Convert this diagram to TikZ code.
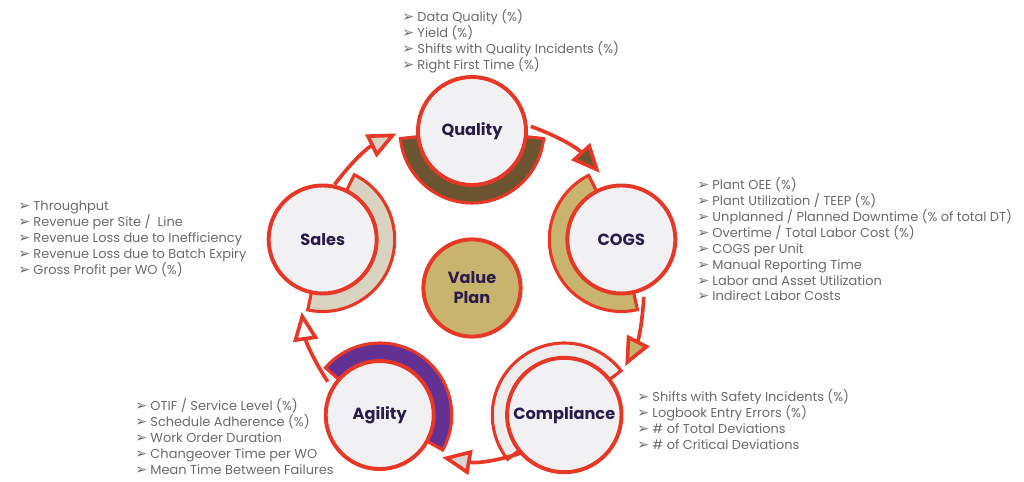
\documentclass[tikz,border=0pt]{standalone}
\usepackage{fontspec}
\setmainfont{Poppins}
\newfontfamily\bulfont{DejaVu Sans}
\usetikzlibrary{calc,arrows.meta}
\definecolor{ringred}{HTML}{E73827}
\definecolor{disc}{HTML}{F1F1F3}
\definecolor{ink}{HTML}{2A1B4A}
\definecolor{txtgray}{HTML}{6A6A6A}
\definecolor{gold}{HTML}{C9B46E}
\definecolor{qbrown}{HTML}{6B5430}
\definecolor{greige}{HTML}{D9D4C2}
\definecolor{agpurple}{HTML}{633094}
\definecolor{pale}{HTML}{EDEDED}
\newcommand{\itm}{\makebox[0.38cm][l]{\bulfont\fontsize{10}{11}\selectfont ➢}}
\tikzset{
  kpi/.style={circle, draw=ringred, line width=2.8pt, fill=disc, minimum size=2.7cm,
    font=\fontsize{11.5}{14}\selectfont\bfseries, text=ink},
  band/.style={draw=ringred, line width=2.2pt},
  flow/.style={draw=ringred, line width=2.6pt},
  metrics/.style={align=left, inner sep=0pt, anchor=north west, text=txtgray,
    font=\fontsize{9.2}{11.34}\selectfont},
}

\begin{document}
\begin{tikzpicture}[x=0.025cm,y=0.025cm]
  \useasboundingbox (0,0) rectangle (1024,481);
  \coordinate (hub) at (472,193);
  \coordinate (qc) at ($(hub)+(90:157)$);
  \coordinate (cc) at ($(hub)+(18:157)$);
  \coordinate (mc) at ($(hub)+(-54:157)$);
  \coordinate (ac) at ($(hub)+(-126:157)$);
  \coordinate (sc) at ($(hub)+(162:157)$);

  \draw[band, fill=qbrown] (qc) -- ++(186:72) arc[start angle=186, end angle=354, radius=72] -- cycle;
  \draw[band, fill=gold] (cc) -- ++(117:72) arc[start angle=117, end angle=283, radius=72] -- cycle;
  \draw[band, fill=pale] (mc) -- ++(38:72) arc[start angle=38, end angle=218, radius=72] -- cycle;
  \draw[band, fill=agpurple] (ac) -- ++(-29:72) arc[start angle=-29, end angle=139, radius=72] -- cycle;
  \draw[band, fill=greige] (sc) -- ++(-102:72) arc[start angle=-102, end angle=64, radius=72] -- cycle;

  \coordinate (q-out) at ($(hub)+(70:172)$);
  \coordinate (c-in) at ($(hub)+(42:172)$);
  \coordinate (c-out) at ($(hub)+(-3:172)$);
  \coordinate (m-in) at ($(hub)+(-27:172)$);
  \coordinate (m-out) at ($(hub)+(-70:172)$);
  \coordinate (a-in) at ($(hub)+(-100:172)$);
  \coordinate (a-out) at ($(hub)+(213:172)$);
  \coordinate (s-in) at ($(hub)+(188:172)$);
  \coordinate (s-out) at ($(hub)+(143:172)$);
  \coordinate (q-in) at ($(hub)+(116:172)$);

  \draw[flow, -{Triangle[length=0.72cm, width=0.62cm, fill=qbrown]}] (q-out) to[bend left=14] (c-in);
  \draw[flow, -{Triangle[length=0.72cm, width=0.62cm, fill=gold]}] (c-out) to[bend left=12] (m-in);
  \draw[flow, -{Triangle[length=0.72cm, width=0.62cm, fill=pale!80!gray]}] (m-out) to[bend left=15] (a-in);
  \draw[flow, -{Triangle[length=0.72cm, width=0.62cm, fill=white]}] (a-out) to[bend left=12.5] (s-in);
  \draw[flow, -{Triangle[length=0.72cm, width=0.62cm, fill=greige]}] (s-out) to[bend left=13.5] (q-in);

  \node[kpi] (quality) at (qc) {Quality};
  \node[kpi] (cogs) at (cc) {COGS};
  \node[kpi] (compliance) at (mc) {Compliance};
  \node[kpi] (agility) at (ac) {Agility};
  \node[kpi] (sales) at (sc) {Sales};
  \node[kpi, fill=gold, minimum size=2.43cm, align=center,
    font=\fontsize{11.5}{14.2}\selectfont\bfseries] (plan) at (hub) {Value\\Plan};

  \node[metrics] (qlist) at (402,472) {\itm Data Quality (\%)\\
    \itm Yield (\%)\\
    \itm Shifts with Quality Incidents (\%)\\
    \itm Right First Time (\%)};
  \node[metrics] (clist) at (697,304) {\itm Plant OEE (\%)\\
    \itm Plant Utilization / TEEP (\%)\\
    \itm Unplanned / Planned Downtime (\% of total DT)\\
    \itm Overtime / Total Labor Cost (\%)\\
    \itm COGS per Unit\\
    \itm Manual Reporting Time\\
    \itm Labor and Asset Utilization\\
    \itm Indirect Labor Costs};
  \node[metrics] (mlist) at (637,92) {\itm Shifts with Safety Incidents (\%)\\
    \itm Logbook Entry Errors (\%)\\
    \itm \# of Total Deviations\\
    \itm \# of Critical Deviations};
  \node[metrics] (alist) at (135,83) {\itm OTIF / Service Level (\%)\\
    \itm Schedule Adherence (\%)\\
    \itm Work Order Duration\\
    \itm Changeover Time per WO\\
    \itm Mean Time Between Failures};
  \node[metrics] (slist) at (18,280) {\itm Throughput\\
    \itm Revenue per Site / \ Line\\
    \itm Revenue Loss due to Inefficiency\\
    \itm Revenue Loss due to Batch Expiry\\
    \itm Gross Profit per WO (\%)};
\end{tikzpicture}
\end{document}
